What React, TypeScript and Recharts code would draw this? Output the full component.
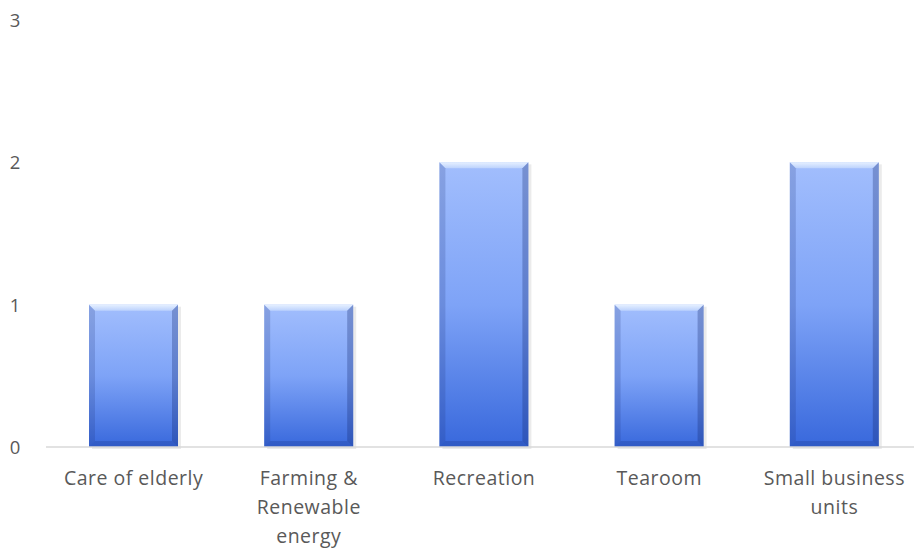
import { BarChart, Bar, XAxis, YAxis, CartesianGrid } from "recharts";

const categories = ["Care of elderly", "Farming &\nRenewable\nenergy", "Recreation", "Tearoom", "Small business\nunits"];
const counts = [1, 1, 2, 1, 2];
const yTicks = [0, 1, 2, 3];

const data = categories.map((name, i) => ({ name, value: counts[i] }));

const FONT = "'Open Sans', sans-serif";

// eslint-disable-next-line @typescript-eslint/no-explicit-any
function BevelBar(props: any) {
  const { x, y, width, height } = props;
  if (!height || height <= 0) return null;
  const b = 6;
  return (
    <g>
      <rect x={x + 3} y={y + 2} width={width} height={height} fill="rgba(0,0,0,0.08)" />
      <rect x={x} y={y} width={width} height={height} fill="url(#barFill)" />
      {/* top bevel */}
      <polygon points={`${x},${y} ${x + width},${y} ${x + width - b},${y + b} ${x + b},${y + b}`} fill="url(#topBevel)" />
      {/* left bevel */}
      <polygon points={`${x},${y} ${x + b},${y + b} ${x + b},${y + height - b} ${x},${y + height}`} fill="rgba(30,50,120,0.2)" />
      {/* right bevel */}
      <polygon points={`${x + width},${y} ${x + width - b},${y + b} ${x + width - b},${y + height - b} ${x + width},${y + height}`} fill="rgba(20,40,110,0.3)" />
      {/* bottom bevel */}
      <polygon points={`${x},${y + height} ${x + b},${y + height - b} ${x + width - b},${y + height - b} ${x + width},${y + height}`} fill="rgba(20,40,120,0.22)" />
    </g>
  );
}

// eslint-disable-next-line @typescript-eslint/no-explicit-any
function XTick(props: any) {
  const { x, y, payload } = props;
  const lines = String(payload.value).split("\n");
  return (
    <text x={x} y={y} textAnchor="middle" fill="#595959" fontSize={19.5} letterSpacing={0.5} fontFamily={FONT}>
      {lines.map((l, i) => (
        <tspan key={i} x={x} dy={i === 0 ? 30 : 29}>{l}</tspan>
      ))}
    </text>
  );
}

// eslint-disable-next-line @typescript-eslint/no-explicit-any
function YTick(props: any) {
  const { y, payload } = props;
  return (
    <text x={15} y={y + 7} textAnchor="middle" fill="#595959" fontSize={18.5} fontFamily={FONT}>
      {payload.value}
    </text>
  );
}

export default function App() {
  return (
    <div style={{ position: "absolute", left: 0, top: 0, width: 914, height: 551, overflow: "hidden", background: "#fff" }}>
      <BarChart
        width={922}
        height={570}
        data={data}
        margin={{ top: 20, right: 0, left: 0, bottom: 0 }}
        barSize={89}
        style={{ overflow: "visible" }}
      >
        <defs>
          <linearGradient id="barFill" x1="0" y1="0" x2="0" y2="1">
            <stop offset="0%" stopColor="#a2befd" />
            <stop offset="50%" stopColor="#7ea3f7" />
            <stop offset="100%" stopColor="#3868dc" />
          </linearGradient>
          <linearGradient id="topBevel" x1="0" y1="0" x2="0" y2="1">
            <stop offset="0%" stopColor="#e6f0ff" />
            <stop offset="100%" stopColor="#bcd2fd" />
          </linearGradient>
        </defs>
        <CartesianGrid vertical={false} horizontal={false} />
        <XAxis
          dataKey="name"
          height={123}
          interval={0}
          tick={<XTick />}
          tickLine={false}
          axisLine={{ stroke: "#d9d9d9", strokeWidth: 1.5 }}
        />
        <YAxis
          width={46}
          domain={[0, 3]}
          ticks={yTicks}
          tick={<YTick />}
          axisLine={false}
          tickLine={false}
        />
        <Bar dataKey="value" shape={<BevelBar />} isAnimationActive={false} />
      </BarChart>
    </div>
  );
}
